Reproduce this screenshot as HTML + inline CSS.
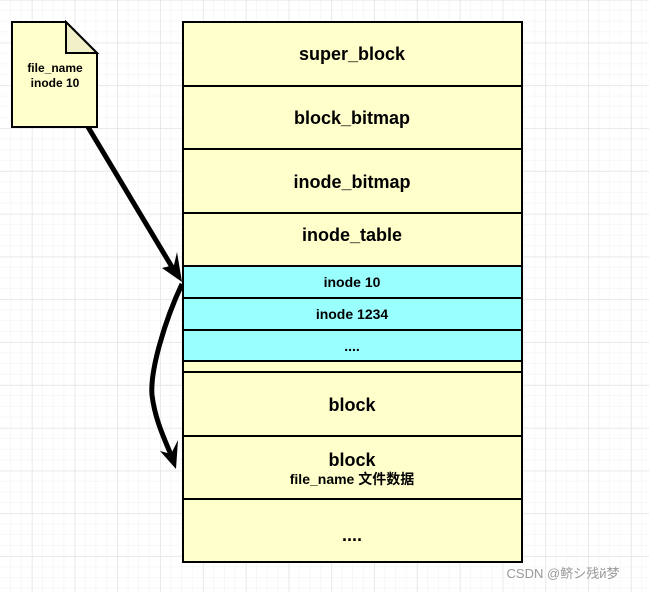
<!DOCTYPE html>
<html><head><meta charset="utf-8"><style>
body{margin:0;width:649px;height:592px;overflow:hidden;background:#fff;font-family:"Liberation Sans","Noto Sans CJK SC",sans-serif;}
</style></head><body>
<svg width="649" height="592" xmlns="http://www.w3.org/2000/svg" style="position:absolute;left:0;top:0">
<defs>
<pattern id="g" width="10.7" height="10.7" patternUnits="userSpaceOnUse"><path d="M10.7 0V10.7H0" fill="none" stroke="#f0f0f0" stroke-width="1"/></pattern>
<pattern id="G" width="42.8" height="42.8" patternUnits="userSpaceOnUse" x="32" y="0"><rect width="42.8" height="42.8" fill="url(#g)"/><path d="M0 0V42.8M0 0H42.8" fill="none" stroke="#e0e0e0" stroke-width="1"/></pattern>
</defs>
<rect width="649" height="592" fill="url(#G)"/>
<g stroke="#000" stroke-width="2" font-weight="bold" text-anchor="middle">
<rect x="183" y="22" width="339" height="540" fill="#ffffcc"/>
<rect x="183" y="266" width="339" height="95" fill="#99ffff"/>
<line x1="183" y1="86" x2="522" y2="86"/>
<line x1="183" y1="149" x2="522" y2="149"/>
<line x1="183" y1="213" x2="522" y2="213"/>
<line x1="183" y1="266" x2="522" y2="266"/>
<line x1="183" y1="298" x2="522" y2="298"/>
<line x1="183" y1="330" x2="522" y2="330"/>
<line x1="183" y1="361" x2="522" y2="361"/>
<line x1="183" y1="372" x2="522" y2="372"/>
<line x1="183" y1="436" x2="522" y2="436"/>
<line x1="183" y1="499" x2="522" y2="499"/>
<g stroke="none" fill="#000" font-size="18">
<text x="352" y="60">super_block</text>
<text x="352" y="124">block_bitmap</text>
<text x="352" y="188">inode_bitmap</text>
<text x="352" y="241">inode_table</text>
<text x="352" y="411">block</text>
<text x="352" y="466">block</text>
<text x="352" y="541">....</text>
<g font-size="14"><text x="352" y="287">inode  10</text><text x="352" y="319">inode 1234</text><text x="352" y="351">....</text>
<text x="352" y="484">file_name 文件数据</text></g>
</g>
<path d="M12 22H66L97 53V127H12Z" fill="#ffffcc"/>
<path d="M66 22V53H97Z" fill="#f2f0c8"/>
<g stroke="none" fill="#000" font-size="12"><text x="55" y="72">file_name</text><text x="55" y="87">inode 10</text></g>
</g>
<g fill="none" stroke="#000" stroke-width="5">
<line x1="88" y1="127" x2="172" y2="267"/>
<path d="M182 284C165 320 150 370 152 395C155 420 165 440 171 455"/>
</g>
<path d="M182 282L162 268L174 265L177 252Z" fill="#000"/>
<path d="M176 469L160 451L171 454L178 440Z" fill="#000"/>
<text x="563" y="578" font-size="13" fill="#999" text-anchor="middle" font-family="Liberation Sans,Noto Sans CJK SC,sans-serif">CSDN @鲚シ残й梦</text>
</svg>
</body></html>
